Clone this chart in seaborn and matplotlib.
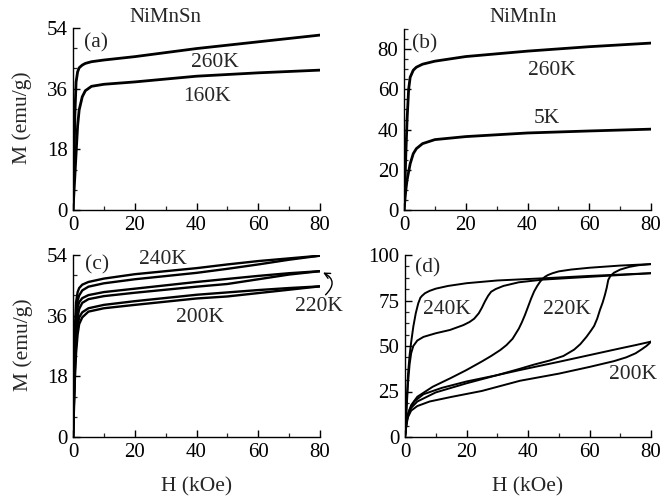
import numpy as np
import pandas as pd
import matplotlib
matplotlib.use("Agg")
import matplotlib.pyplot as plt
from matplotlib.ticker import MultipleLocator
import seaborn as sns

# ---------------- data ----------------
# (a) NiMnSn
H_a = [0, 0.3, 0.6, 1, 1.5, 2, 3, 4, 6, 10, 20, 40, 60, 80]
M_a_260K = [0, 12, 28, 38, 41, 42.2, 43.0, 43.5, 44.0, 44.5, 45.5, 47.9, 49.9, 51.9]
M_a_160K = [0, 5, 10, 16.8, 25, 29.7, 33.6, 35.4, 36.7, 37.3, 38.0, 39.7, 40.7, 41.5]

# (b) NiMnIn
H_b = [0, 0.3, 0.6, 1, 1.5, 2, 3, 4, 6, 10, 20, 40, 60, 80]
M_b_260K = [0, 12, 28, 45, 60, 66, 69.5, 71, 72.5, 74, 76.3, 79, 81.2, 83]
M_b_5K = [0, 5, 10, 15, 19, 23, 28, 30.5, 33, 35, 36.5, 38.3, 39.3, 40.2]

# (c) NiMnSn loops
H_c = [0, 0.3, 0.6, 1, 1.5, 2, 3, 5, 10, 20, 40, 50, 60, 70, 80]
M_c_240K_dn = [0, 18, 32, 40, 43, 44.2, 45.2, 46, 47, 48.3, 50.1, 51.2, 52.2, 53, 53.8]
M_c_240K_up = [0, 14, 27, 36, 40.5, 42, 43.5, 44.6, 45.6, 46.8, 48.7, 49.9, 51.2, 52.6, 53.8]
M_c_220K_dn = [0, 14, 26, 34, 38.5, 40, 41.2, 42.1, 43, 44, 46.0, 46.9, 47.8, 48.6, 49.2]
M_c_220K_up = [0, 11, 22, 30.5, 35.5, 38, 39.8, 40.9, 41.8, 42.8, 44.6, 45.4, 46.8, 48.2, 49.2]
M_c_200K_dn = [0, 10, 20, 28, 33, 35.5, 37, 38.2, 39.2, 40.3, 42.2, 42.9, 43.6, 44.2, 44.7]
M_c_200K_up = [0, 8, 17, 25, 30.5, 33.5, 35.5, 37.2, 38.2, 39.2, 41.1, 41.7, 42.7, 43.7, 44.7]

# (d) NiMnIn loops
H_d_240K_up = [0, 0.5, 1, 1.5, 2, 2.7, 4, 6, 10, 14.6, 19, 21, 22.5, 24, 25, 26, 27, 28, 29.5, 32, 37, 45, 60, 80]
M_d_240K_up = [0, 15, 30, 40, 46, 50, 53, 55, 57, 58.8, 61.5, 63.2, 65, 68, 71, 74.5, 77.5, 79.8, 81.3, 83, 85, 86.5, 88, 90]
H_d_240K_dn = [80, 60, 45, 30, 20, 14, 10, 8, 6.5, 5.5, 5, 4.3, 3.5, 2.7, 2, 1.5, 1, 0.5, 0]
M_d_240K_dn = [90, 88.5, 87.2, 86, 84.5, 83, 81.5, 80.3, 79, 77.5, 76.5, 73.4, 68, 60.6, 52, 45, 35, 18, 0]
H_d_220K_up = [0, 0.5, 1, 2, 4, 10, 20, 30, 37.4, 42, 47, 51.5, 55, 57, 59, 60.5, 61.5, 62.5, 63.4, 64.3, 65,
               65.6, 66.1, 66.8, 68, 70, 73, 76, 80]
M_d_220K_up = [0, 8, 12, 16, 19.5, 24.5, 29.5, 34, 37.5, 39.8, 42, 44.5, 48, 51, 55, 58.5, 61, 65, 69.8, 74, 78,
               82, 86.3, 88.5, 90.3, 92, 93.5, 94.4, 95]
H_d_220K_dn = [80, 70, 60, 54, 50, 48, 46.5, 45.5, 44.5, 43.8, 43, 42, 41, 40, 39, 38, 37, 35, 33, 31, 28, 25,
               20, 15, 9, 4, 2, 1, 0.5, 0]
M_d_220K_dn = [95, 94.2, 93, 92, 91, 90, 89, 88, 86.5, 85, 83, 80, 76, 71.5, 67, 63, 59.5, 54, 50.5, 47.8, 44.5,
               41.5, 36.8, 32.5, 27.6, 22.1, 17.5, 13, 9, 0]
H_d_200K_up = [0, 0.5, 1, 2, 4, 8, 15, 25, 37.4, 50, 60, 68, 72, 75, 77, 78.5, 79.5, 80]
M_d_200K_up = [0, 7, 11, 14.5, 17, 19.5, 22, 25.3, 30.9, 34.8, 38.5, 41.7, 43.8, 46, 48.2, 50, 51.5, 52.4]
H_d_200K_dn = [80, 75, 70, 60, 50, 37.4, 30, 20, 12, 6, 3, 1.5, 0.7, 0]
M_d_200K_dn = [52.4, 50.5, 48.7, 45, 41.3, 36.8, 34, 30.5, 27, 23.5, 19.5, 15, 10, 0]

x_ticks = [0, 20, 40, 60, 80]
y_ticks_a = [0, 18, 36, 54]
y_ticks_b = [0, 20, 40, 60, 80]
y_ticks_c = [0, 18, 36, 54]
y_ticks_d = [0, 25, 50, 75, 100]

# ---------------- style ----------------
sns.set_style("ticks")
plt.rcParams['font.family'] = ['Liberation Serif', 'DejaVu Serif']

W, Hh = 660, 501
fig = plt.figure(figsize=(W / 100, Hh / 100), dpi=100)


def make_ax(l, r, t, b):
    return fig.add_axes([l / W, 1 - b / Hh, (r - l) / W, (b - t) / Hh])


ax_a = make_ax(73, 320, 28, 210)
ax_b = make_ax(404, 651, 29, 210)
ax_c = make_ax(73, 320, 255, 437)
ax_d = make_ax(405, 651, 255, 437)

TICK_FS = 15
ANN_FS = 15.5


def style(ax, ylim, yticks, yminor):
    ax.set_xlim(0, 80)
    ax.set_ylim(*ylim)
    ax.set_xticks(x_ticks)
    ax.set_yticks(yticks)
    ax.xaxis.set_minor_locator(MultipleLocator(10))
    ax.yaxis.set_minor_locator(MultipleLocator(yminor))
    for s in ("top", "right"):
        ax.spines[s].set_visible(False)
    for s in ("left", "bottom"):
        ax.spines[s].set_linewidth(1.0)
        ax.spines[s].set_color("black")
    ax.tick_params(which="major", direction="in", length=5, width=1.0,
                   labelsize=TICK_FS, colors="black")
    ax.tick_params(axis="y", which="major", pad=4)
    ax.tick_params(axis="x", which="major", pad=4)
    ax.tick_params(which="minor", direction="in", length=3, width=0.9)
    ax.set_xlabel("")
    ax.set_ylabel("")


def curve(ax, h, m, lw):
    sns.lineplot(x=h, y=m, ax=ax, color="black", linewidth=lw, sort=False,
                 estimator=None, legend=False)


# (a)
curve(ax_a, H_a, M_a_260K, 2.0)
curve(ax_a, H_a, M_a_160K, 2.0)
style(ax_a, (0, 54), y_ticks_a, 6)
# (b)
curve(ax_b, H_b, M_b_260K, 2.0)
curve(ax_b, H_b, M_b_5K, 2.0)
style(ax_b, (0, 90), y_ticks_b, 5)
# (c)
for m in (M_c_240K_dn, M_c_240K_up, M_c_220K_dn, M_c_220K_up, M_c_200K_dn, M_c_200K_up):
    curve(ax_c, H_c, m, 1.7)
style(ax_c, (0, 54), y_ticks_c, 6)
# (d)
for h, m in ((H_d_240K_up, M_d_240K_up), (H_d_240K_dn, M_d_240K_dn),
             (H_d_220K_up, M_d_220K_up), (H_d_220K_dn, M_d_220K_dn),
             (H_d_200K_up, M_d_200K_up), (H_d_200K_dn, M_d_200K_dn)):
    curve(ax_d, h, m, 1.4)
style(ax_d, (0, 100), y_ticks_d, 6.25)


def lab(ax, x, y, s):
    ax.text(x, y, s, transform=ax.transAxes, ha="center", va="center",
            fontsize=ANN_FS, clip_on=False)


lab(ax_a, 0.093, 0.918, "(a)")
lab(ax_a, 0.575, 0.808, "260K")
lab(ax_a, 0.543, 0.621, "160K")
lab(ax_b, 0.085, 0.918, "(b)")
lab(ax_b, 0.599, 0.769, "260K")
lab(ax_b, 0.579, 0.505, "5K")
lab(ax_c, 0.097, 0.945, "(c)")
lab(ax_c, 0.364, 0.973, "240K")
lab(ax_c, 0.514, 0.654, "200K")
lab(ax_c, 0.995, 0.715, "220K")
ax_c.annotate("", xy=(80.6, 49.0), xytext=(81.8, 42.2),
              arrowprops=dict(arrowstyle="->", color="black", lw=1.0,
                              connectionstyle="arc3,rad=0.7",
                              shrinkA=0, shrinkB=1),
              annotation_clip=False)
lab(ax_d, 0.093, 0.929, "(d)")
lab(ax_d, 0.171, 0.698, "240K")
lab(ax_d, 0.659, 0.698, "220K")
lab(ax_d, 0.927, 0.341, "200K")

fig.text(165 / W, 1 - 17 / Hh, "NiMnSn", ha="center", va="center", fontsize=15)
fig.text(523 / W, 1 - 17 / Hh, "NiMnIn", ha="center", va="center", fontsize=15)
fig.text(22 / W, 1 - 118 / Hh, "M (emu/g)", ha="center", va="center",
         rotation=90, fontsize=15.5)
fig.text(23 / W, 1 - 345 / Hh, "M (emu/g)", ha="center", va="center",
         rotation=90, fontsize=15.5)
fig.text(197 / W, 1 - 487 / Hh, "H (kOe)", ha="center", va="center", fontsize=15.5)
fig.text(528 / W, 1 - 487 / Hh, "H (kOe)", ha="center", va="center", fontsize=15.5)

fig.savefig("out.png", dpi=100, facecolor="white")
